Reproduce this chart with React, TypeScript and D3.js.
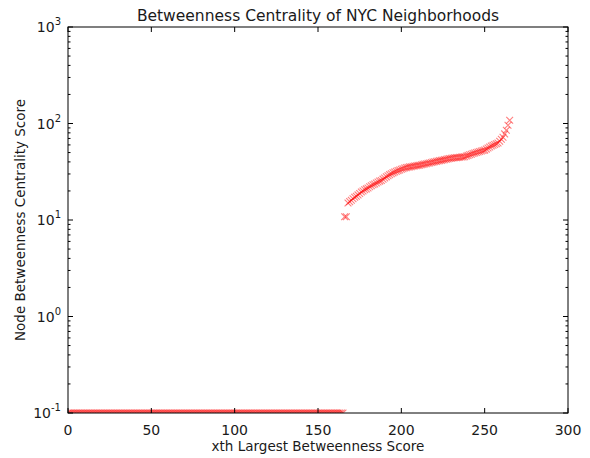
import React, { useRef, useEffect } from "react";
import * as d3 from "d3";

// nodes with zero betweenness (ranks 0..165)
const zeroScores: number[] = [
    0, 0, 0, 0, 0, 0, 0, 0, 0, 0, 0, 0, 0, 0, 0, 0, 0, 0, 0, 0,
    0, 0, 0, 0, 0, 0, 0, 0, 0, 0, 0, 0, 0, 0, 0, 0, 0, 0, 0, 0,
    0, 0, 0, 0, 0, 0, 0, 0, 0, 0, 0, 0, 0, 0, 0, 0, 0, 0, 0, 0,
    0, 0, 0, 0, 0, 0, 0, 0, 0, 0, 0, 0, 0, 0, 0, 0, 0, 0, 0, 0,
    0, 0, 0, 0, 0, 0, 0, 0, 0, 0, 0, 0, 0, 0, 0, 0, 0, 0, 0, 0,
    0, 0, 0, 0, 0, 0, 0, 0, 0, 0, 0, 0, 0, 0, 0, 0, 0, 0, 0, 0,
    0, 0, 0, 0, 0, 0, 0, 0, 0, 0, 0, 0, 0, 0, 0, 0, 0, 0, 0, 0,
    0, 0, 0, 0, 0, 0, 0, 0, 0, 0, 0, 0, 0, 0, 0, 0, 0, 0, 0, 0,
    0, 0, 0, 0, 0, 0,
];

// nonzero scores (ranks 166..265)
const nonzeroScores: number[] = [
    10.8, 10.8,
    15.0, 15.5, 16.0, 16.6, 17.2, 17.6, 18.2, 18.8, 19.5, 20.0,
    20.6, 21.0, 21.5, 22.1, 22.6, 23.2, 23.6, 24.2, 24.8, 25.3,
    25.7, 26.5, 27.2, 28.0, 28.8, 29.5, 30.2, 30.8, 31.4, 32.0,
    32.5, 33.0, 33.5, 34.0, 34.6, 34.9, 35.2, 35.5, 35.7, 36.0,
    36.3, 36.5, 36.8, 37.0, 37.3, 37.7, 38.0, 38.3, 38.7, 39.0,
    39.4, 39.8, 40.2, 40.5, 40.9, 41.2, 41.5, 41.9, 42.2, 42.6,
    43.0, 43.4, 43.6, 43.9, 44.1, 44.3, 44.5, 44.7, 44.9, 45.1,
    45.3, 46.0, 46.7, 47.4, 48.1, 48.8, 49.5, 50.1, 50.7, 51.3,
    51.9, 52.4, 53.0, 54.3, 55.7, 57.0, 58.5, 59.5, 60.6, 61.7,
    62.8, 65.5, 68.7, 72.0, 78.0, 85.0, 96.0, 108.0,
];

const xTicks = [0, 50, 100, 150, 200, 250, 300];
const yExponents = [-1, 0, 1, 2, 3];

export default function App() {
    const svgRef = useRef<SVGSVGElement>(null);

    useEffect(() => {
        if (!svgRef.current) return;
        const svg = d3.select(svgRef.current);
        svg.selectAll("*").remove();

        const W = 590, H = 458;
        const margin = { top: 27, right: 22, bottom: 45, left: 68 };
        const width = W - margin.left - margin.right;
        const height = H - margin.top - margin.bottom;
        const font = "DejaVu Sans, sans-serif";
        const textColor = "#1a1a1a";

        const scores = [...zeroScores, ...nonzeroScores];
        const data = scores.map((v, i) => ({ rank: i, score: v }));

        const x = d3.scaleLinear().domain([0, 300]).range([0, width]);
        const y = d3.scaleLog().domain([0.1, 1000]).range([height, 0]);

        const g = svg.append("g")
            .attr("transform", `translate(${margin.left},${margin.top})`);

        svg.append("defs").append("clipPath").attr("id", "plotclip")
            .append("rect").attr("width", width).attr("height", height);

        // x markers; zero scores sit clipped on the bottom edge like matplotlib
        const s = 3.4;
        g.append("g").attr("clip-path", "url(#plotclip)")
            .selectAll("path").data(data).enter().append("path")
            .attr("transform", d => `translate(${x(d.rank)},${d.score > 0 ? y(d.score) : height})`)
            .attr("d", `M${-s},${-s}L${s},${s}M${-s},${s}L${s},${-s}`)
            .attr("stroke", "#ff0000")
            .attr("stroke-opacity", 0.5)
            .attr("stroke-width", 1.1)
            .attr("fill", "none");

        // frame
        g.append("rect").attr("width", width).attr("height", height)
            .attr("fill", "none").attr("stroke", "#000").attr("stroke-width", 1);

        // x ticks, inward on bottom and top
        xTicks.forEach(t => {
            const px = x(t);
            g.append("line").attr("x1", px).attr("x2", px).attr("y1", height).attr("y2", height - 5)
                .attr("stroke", "#000");
            g.append("line").attr("x1", px).attr("x2", px).attr("y1", 0).attr("y2", 5)
                .attr("stroke", "#000");
            g.append("text").attr("x", px).attr("y", height + 22)
                .attr("text-anchor", "middle").attr("font-family", font).attr("font-size", 14)
                .attr("fill", textColor).text(t);
        });

        // y major + minor ticks, inward on left and right
        yExponents.forEach(e => {
            const py = y(Math.pow(10, e));
            g.append("line").attr("x1", 0).attr("x2", 5).attr("y1", py).attr("y2", py).attr("stroke", "#000");
            g.append("line").attr("x1", width).attr("x2", width - 5).attr("y1", py).attr("y2", py).attr("stroke", "#000");
            const lbl = g.append("text").attr("x", -7).attr("y", py + 5)
                .attr("text-anchor", "end").attr("font-family", font).attr("font-size", 14)
                .attr("fill", textColor);
            lbl.append("tspan").text("10");
            lbl.append("tspan").attr("dy", -7).attr("font-size", 10).text(String(e));
            if (e < 3) {
                for (let m = 2; m <= 9; m++) {
                    const my = y(m * Math.pow(10, e));
                    g.append("line").attr("x1", 0).attr("x2", 2.5).attr("y1", my).attr("y2", my).attr("stroke", "#000");
                    g.append("line").attr("x1", width).attr("x2", width - 2.5).attr("y1", my).attr("y2", my).attr("stroke", "#000");
                }
            }
        });

        // title and axis labels
        svg.append("text").attr("x", margin.left + width / 2).attr("y", 21)
            .attr("text-anchor", "middle").attr("font-family", font).attr("font-size", 15.5)
            .attr("fill", textColor).text("Betweenness Centrality of NYC Neighborhoods");
        svg.append("text").attr("x", margin.left + width / 2).attr("y", 451)
            .attr("text-anchor", "middle").attr("font-family", font).attr("font-size", 13.5)
            .attr("fill", textColor).text("xth Largest Betweenness Score");
        svg.append("text")
            .attr("transform", `translate(25,${margin.top + height / 2}) rotate(-90)`)
            .attr("text-anchor", "middle").attr("font-family", font).attr("font-size", 13.5)
            .attr("fill", textColor).text("Node Betweenness Centrality Score");
    }, []);

    return (
        <svg ref={svgRef} width={590} height={458}
            style={{ position: "absolute", left: 0, top: 0, background: "#fff" }} />
    );
}
